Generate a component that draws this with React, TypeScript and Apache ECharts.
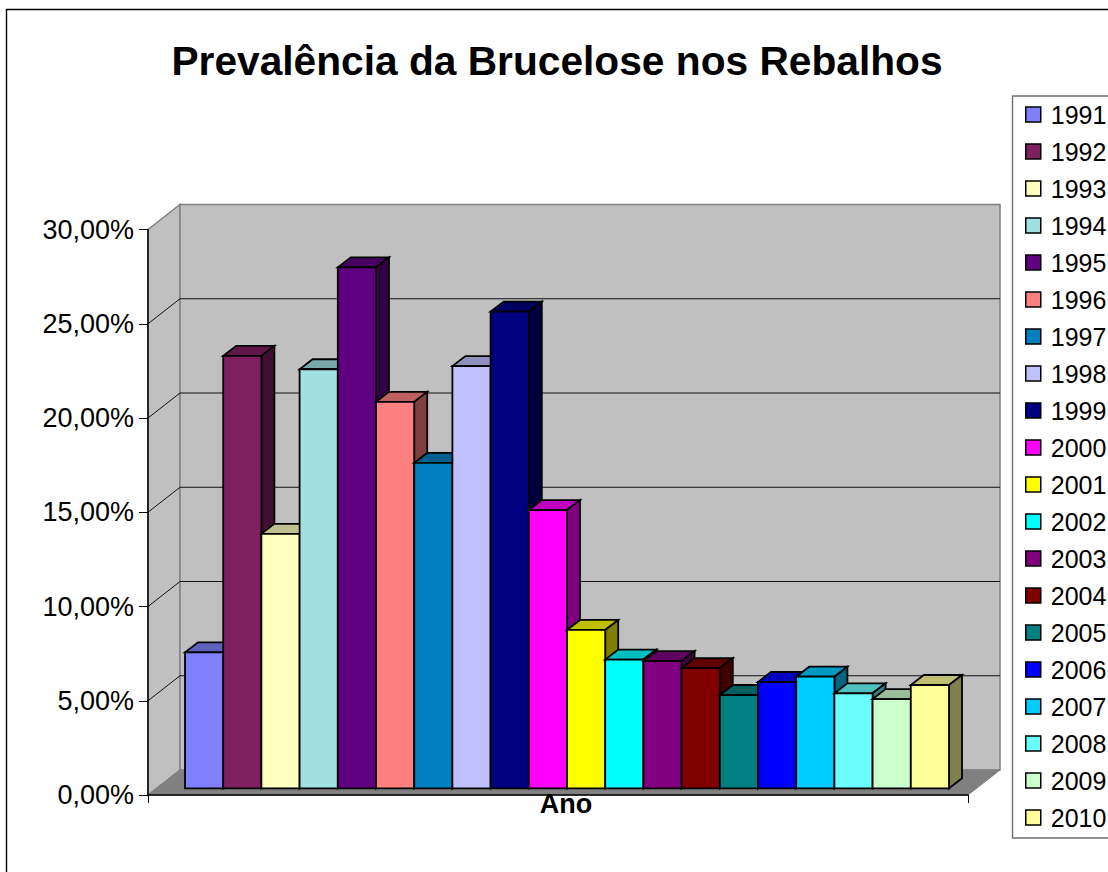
import React, { useEffect, useRef } from "react";
import * as echarts from "echarts";

const categories = ["Ano"];
const years = ["1991","1992","1993","1994","1995","1996","1997","1998","1999","2000","2001","2002","2003","2004","2005","2006","2007","2008","2009","2010"];
const prevalence = [7.21,22.94,13.5,22.23,27.64,20.5,17.26,22.4,25.29,14.76,8.4,6.83,6.75,6.38,4.95,5.64,5.92,5.04,4.73,5.48];
const colors = ["#8080ff","#802060","#ffffc0","#a0e0e0","#600080","#ff8080","#0080c0","#c0c0ff","#000080","#ff00ff","#ffff00","#00ffff","#800080","#800000","#008080","#0000ff","#00ccff","#69ffff","#ccffcc","#ffff99"];
const yTicks = [0,5,10,15,20,25,30];

const WALL_DX = 32;
const WALL_DY = -25;
const BAR_INSET = 37;
const BAR_WIDTH = 38.2;
const BAR_DX = 13;
const BAR_DY = -10;
const BAR_LIFT = 6.7;
const FONT = "'Liberation Sans', Arial, sans-serif";

function shade(hex: string, f: number) {
  const n = parseInt(hex.slice(1), 16);
  const c = [(n >> 16) & 255, (n >> 8) & 255, n & 255].map((v) => Math.round(v * f));
  return `rgb(${c[0]},${c[1]},${c[2]})`;
}

function renderWalls(_: any, api: any) {
  const band = api.size([1, 0])[0];
  const cx = api.coord([categories[0], 0])[0];
  const x0 = cx - band / 2;
  const x1 = cx + band / 2;
  const y0 = api.coord([categories[0], 0])[1];
  const yTop = api.coord([categories[0], yTicks[yTicks.length - 1]])[1];
  const children: any[] = [
    { type: "polygon", shape: { points: [[x0, y0], [x0, yTop], [x0 + WALL_DX, yTop + WALL_DY], [x0 + WALL_DX, y0 + WALL_DY]] },
      style: { fill: "#c0c0c0", stroke: "#808080", lineWidth: 1.5 } },
    { type: "rect", shape: { x: x0 + WALL_DX, y: yTop + WALL_DY, width: x1 - x0, height: y0 - yTop },
      style: { fill: "#c0c0c0", stroke: "#808080", lineWidth: 1.5 } },
    { type: "polygon", shape: { points: [[x0, y0], [x1, y0], [x1 + WALL_DX, y0 + WALL_DY], [x0 + WALL_DX, y0 + WALL_DY]] },
      style: { fill: "#808080", stroke: "#808080", lineWidth: 1 } },
  ];
  yTicks.slice(1, -1).forEach((v) => {
    const y = api.coord([categories[0], v])[1];
    children.push({
      type: "polyline",
      shape: { points: [[x0, y], [x0 + WALL_DX, y + WALL_DY], [x1 + WALL_DX, y + WALL_DY]] },
      style: { fill: "none", stroke: "#111", lineWidth: 1 },
    });
  });
  return { type: "group", children };
}

function renderBar(index: number) {
  return (_: any, api: any) => {
    const band = api.size([1, 0])[0];
    const p = api.coord([categories[0], api.value(1)]);
    const y0 = api.coord([categories[0], 0])[1] - BAR_LIFT;
    const top = p[1] - BAR_LIFT;
    const l = p[0] - band / 2 + BAR_INSET + index * BAR_WIDTH;
    const r = l + BAR_WIDTH;
    const fill = colors[index];
    const stroke = { stroke: "#000", lineWidth: 1.8, lineJoin: "miter" };
    return {
      type: "group",
      children: [
        { type: "polygon", shape: { points: [[l, top], [r, top], [r + BAR_DX, top + BAR_DY], [l + BAR_DX, top + BAR_DY]] },
          style: { fill: shade(fill, 0.75), ...stroke } },
        { type: "polygon", shape: { points: [[r, top], [r + BAR_DX, top + BAR_DY], [r + BAR_DX, y0 + BAR_DY], [r, y0]] },
          style: { fill: shade(fill, 0.5), ...stroke } },
        { type: "rect", shape: { x: l, y: top, width: BAR_WIDTH, height: y0 - top },
          style: { fill, ...stroke } },
      ],
    };
  };
}

export default function App() {
  const ref = useRef<HTMLDivElement>(null);
  useEffect(() => {
    document.body.style.margin = "0";
    const chart = echarts.init(ref.current!, null, { renderer: "svg" });
    chart.setOption({
      animation: false,
      backgroundColor: "#fff",
      textStyle: { fontFamily: FONT },
      title: {
        text: "Prevalência da Brucelose nos Rebalhos",
        left: 552,
        top: 35,
        textAlign: "center",
        textStyle: { fontFamily: FONT, fontSize: 40.7, fontWeight: "bold", color: "#000" },
      },
      grid: { left: 148, top: 229.5, width: 820, height: 565.5 },
      xAxis: {
        type: "category",
        data: categories,
        z: 5,
        axisLine: { lineStyle: { color: "#000", width: 1.5 } },
        axisTick: { show: true, length: 8, lineStyle: { color: "#000", width: 1 } },
        axisLabel: { margin: -5, fontFamily: FONT, fontSize: 27, fontWeight: "bold", color: "#000", padding: [0, 0, 0, 16] },
      },
      yAxis: {
        type: "value",
        min: 0,
        max: 30,
        interval: 5,
        z: 5,
        splitLine: { show: false },
        axisLine: { show: true, lineStyle: { color: "#000", width: 1.5 } },
        axisTick: { show: true, length: 9, lineStyle: { color: "#000", width: 1 } },
        axisLabel: {
          margin: 14,
          fontFamily: FONT,
          fontSize: 27,
          color: "#000",
          formatter: (v: number) => v.toFixed(2).replace(".", ",") + "%",
        },
      },
      legend: {
        orient: "vertical",
        left: 1025,
        top: 102,
        padding: 0,
        data: years,
        itemWidth: 15,
        itemHeight: 15,
        itemGap: 12,
        icon: "rect",
        itemStyle: { borderColor: "#000", borderWidth: 1.5 },
        textStyle: { fontFamily: FONT, fontSize: 25, lineHeight: 25, color: "#000", padding: [0, 0, 0, 5] },
      },
      graphic: [
        { type: "polyline", silent: true, shape: { points: [[6.5, 872], [6.5, 9.5], [1108, 9.5]] },
          style: { fill: "none", stroke: "#000", lineWidth: 1.4 } },
        { type: "polyline", silent: true, shape: { points: [[1108, 96], [1012.5, 96], [1012.5, 838], [1108, 838]] },
          style: { fill: "none", stroke: "#707070", lineWidth: 1.4 } },
      ],
      series: [
        { type: "custom", name: "plano", silent: true, renderItem: renderWalls, data: [[categories[0], 0]], encode: { x: 0, y: 1 } },
        ...years.map((y, i) => ({
          type: "custom",
          name: y,
          silent: true,
          renderItem: renderBar(i),
          itemStyle: { color: colors[i], borderColor: "#000", borderWidth: 1.5 },
          data: [[categories[0], prevalence[i]]],
          encode: { x: 0, y: 1 },
        })),
      ],
    });
    return () => chart.dispose();
  }, []);
  return <div ref={ref} style={{ width: 1108, height: 872, overflow: "hidden" }} />;
}
